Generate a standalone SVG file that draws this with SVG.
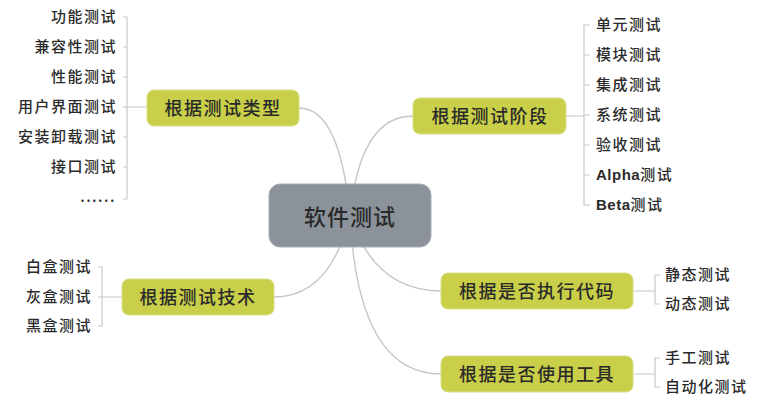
<svg xmlns="http://www.w3.org/2000/svg" width="763" height="406" viewBox="0 0 763 406">
<style>
.bg{fill:#ffffff}
.curve{fill:none;stroke:#c4c4c4;stroke-width:1.3}
.br{fill:none;stroke:#c8c8c8;stroke-width:1.2}
.branch{fill:#c9cf48;stroke:#d9dd8a;stroke-width:1}
.center{fill:#8b929a;stroke:#a9aeb4;stroke-width:1}
text{font-family:"Noto Sans CJK SC","Liberation Sans",sans-serif;fill:#2a2a2a;font-weight:500}
.leaf{font-size:15px;letter-spacing:1.5px;dominant-baseline:central}
.bt{font-size:18px;letter-spacing:1.5px;text-anchor:middle;dominant-baseline:central}
.ct{font-size:22px;letter-spacing:1px;text-anchor:middle;dominant-baseline:central}
.lat{font-family:"Liberation Sans",sans-serif;font-weight:bold;letter-spacing:0.5px}
</style>
<rect class="bg" x="0" y="0" width="763" height="406"/>
<g id="connectors">
<path class="curve" d="M350,216 Q340,108 299,108"/>
<path class="curve" d="M350,216 Q360,116 413,116"/>
<path class="curve" d="M350,216 Q330,297 274,297"/>
<path class="curve" d="M350,216 Q375,291 441,291"/>
<path class="curve" d="M350,216 Q358,374 441,374"/>
<path class="br" d="M147,107 H127 M123,17 H127 V199 H123 M123,47 H127 M123,77 H127 M123,107 H127 M123,137 H127 M123,167 H127"/>
<path class="br" d="M566,116 H584 M590,25 H584 V205 H590 M584,55 H590 M584,85 H590 M584,115 H590 M584,145 H590 M584,175 H590"/>
<path class="br" d="M122,297 H102 M98,267 H102 V326 H98 M98,297 H102"/>
<path class="br" d="M633,291 H655 M660,275 H655 V304 H660"/>
<path class="br" d="M633,374 H655 M660,358 H655 V387 H660"/>
</g>
<g id="center">
<rect class="center" x="269" y="184" width="162" height="63" rx="11"/>
<text class="ct" x="350" y="215">软件测试</text>
</g>
<g id="type">
<rect class="branch" x="147" y="90" width="152" height="36" rx="7"/>
<text class="bt" x="223" y="107">根据测试类型</text>
</g>
<g id="type-leaves">
<text class="leaf" x="117" y="15.5" text-anchor="end">功能测试</text>
<text class="leaf" x="117" y="45.5" text-anchor="end">兼容性测试</text>
<text class="leaf" x="117" y="75.5" text-anchor="end">性能测试</text>
<text class="leaf" x="117" y="105.5" text-anchor="end">用户界面测试</text>
<text class="leaf" x="117" y="135.5" text-anchor="end">安装卸载测试</text>
<text class="leaf" x="117" y="165.5" text-anchor="end">接口测试</text>
<text class="leaf" x="116" y="195.5" text-anchor="end">......</text>
</g>
<g id="stage">
<rect class="branch" x="413" y="98" width="153" height="36" rx="7"/>
<text class="bt" x="490" y="115">根据测试阶段</text>
</g>
<g id="stage-leaves">
<text class="leaf" x="596" y="23.5">单元测试</text>
<text class="leaf" x="596" y="53.5">模块测试</text>
<text class="leaf" x="596" y="83.5">集成测试</text>
<text class="leaf" x="596" y="113.5">系统测试</text>
<text class="leaf" x="596" y="143.5">验收测试</text>
<text class="leaf" x="596" y="173.5"><tspan class="lat">Alpha</tspan>测试</text>
<text class="leaf" x="596" y="203.5"><tspan class="lat">Beta</tspan>测试</text>
</g>
<g id="tech">
<rect class="branch" x="122" y="279" width="152" height="36" rx="7"/>
<text class="bt" x="198" y="296">根据测试技术</text>
</g>
<g id="tech-leaves">
<text class="leaf" x="92" y="265.5" text-anchor="end">白盒测试</text>
<text class="leaf" x="92" y="295.5" text-anchor="end">灰盒测试</text>
<text class="leaf" x="92" y="324.5" text-anchor="end">黑盒测试</text>
</g>
<g id="exec">
<rect class="branch" x="441" y="273" width="192" height="36" rx="7"/>
<text class="bt" x="537" y="290">根据是否执行代码</text>
</g>
<g id="exec-leaves">
<text class="leaf" x="665" y="273.5">静态测试</text>
<text class="leaf" x="665" y="302.5">动态测试</text>
</g>
<g id="tool">
<rect class="branch" x="441" y="356" width="192" height="36" rx="7"/>
<text class="bt" x="537" y="373">根据是否使用工具</text>
</g>
<g id="tool-leaves">
<text class="leaf" x="665" y="356.5">手工测试</text>
<text class="leaf" x="665" y="385.5">自动化测试</text>
</g>
</svg>
